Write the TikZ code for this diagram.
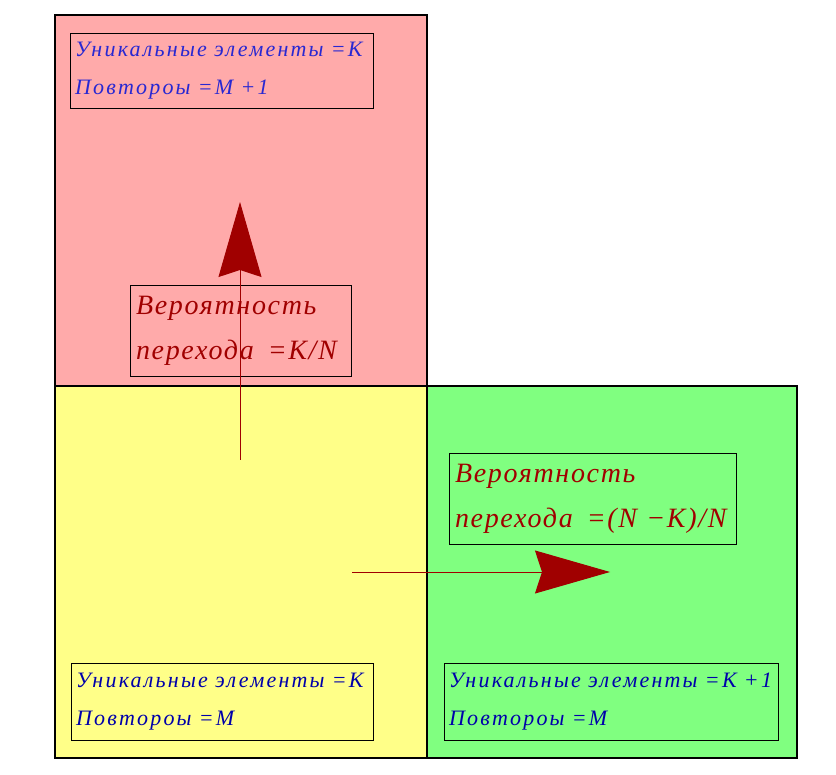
\documentclass[tikz,border=0pt]{standalone}
\usepackage{fontspec}
\setmainfont{Liberation Serif}
\newfontfamily\infofont[LetterSpace=10]{Liberation Serif}
\newfontfamily\probfont[LetterSpace=6]{Liberation Serif}
\usetikzlibrary{arrows.meta}

\definecolor{sqred}{RGB}{255,170,170}
\definecolor{sqyellow}{RGB}{255,255,136}
\definecolor{sqgreen}{RGB}{128,255,128}
\definecolor{probred}{RGB}{160,0,0}
\definecolor{infoblue}{RGB}{40,40,210}
\definecolor{infonavy}{RGB}{0,0,170}

\tikzset{
  square/.style={draw=black,line width=2pt},
  infobox/.style={draw=black,line width=0.8pt,align=left,inner xsep=5pt,inner ysep=0pt,
    font=\infofont\fontsize{22}{38}\selectfont\itshape},
  probbox/.style={draw=black,line width=0.8pt,align=left,inner xsep=6pt,inner ysep=0pt,
    text=probred,font=\probfont\fontsize{28}{45}\selectfont\itshape},
  jump/.style={draw=probred,line width=1pt,-{Stealth[length=75pt,width=43pt,inset=7pt,fill=probred]}}
}

\begin{document}
\begin{tikzpicture}[x=1pt,y=-1pt]
\useasboundingbox (0,0) rectangle (836,775);

\draw[square,fill=sqred]    (55,15)   rectangle (427,386); %top
\draw[square,fill=sqyellow] (55,386)  rectangle (427,758); %start
\draw[square,fill=sqgreen]  (427,386) rectangle (797,758); %right

\node[infobox,text=infoblue,text width=293pt,minimum height=75pt] (infoTop) at (221.5,70.5)
  {Уникальные элементы =К\\Повтороы =М +1};
\node[infobox,text=infonavy,text width=292pt,minimum height=77pt] (infoStart) at (222,701.5)
  {Уникальные элементы =К\\Повтороы =М};
\node[infobox,text=infonavy,text width=324pt,minimum height=77pt] (infoRight) at (611,701.5)
  {Уникальные элементы =К +1\\Повтороы =М};

\node[probbox,text width=209pt,minimum height=91pt] (probUp) at (240.5,330.5)
  {Вероятность\\перехода \,=K/N};
\node[probbox,text width=275pt,minimum height=91pt] (probRight) at (592.5,498.5)
  {Вероятность\\перехода \,=(N −K)/N};

\coordinate (upFrom) at (240,460);
\coordinate (upTo) at (240,202);
\coordinate (rightFrom) at (352,572);
\coordinate (rightTo) at (610,572);

\draw[jump] (upFrom) -- (upTo); %to top
\draw[jump] (rightFrom) -- (rightTo); %to right
\end{tikzpicture}
\end{document}
